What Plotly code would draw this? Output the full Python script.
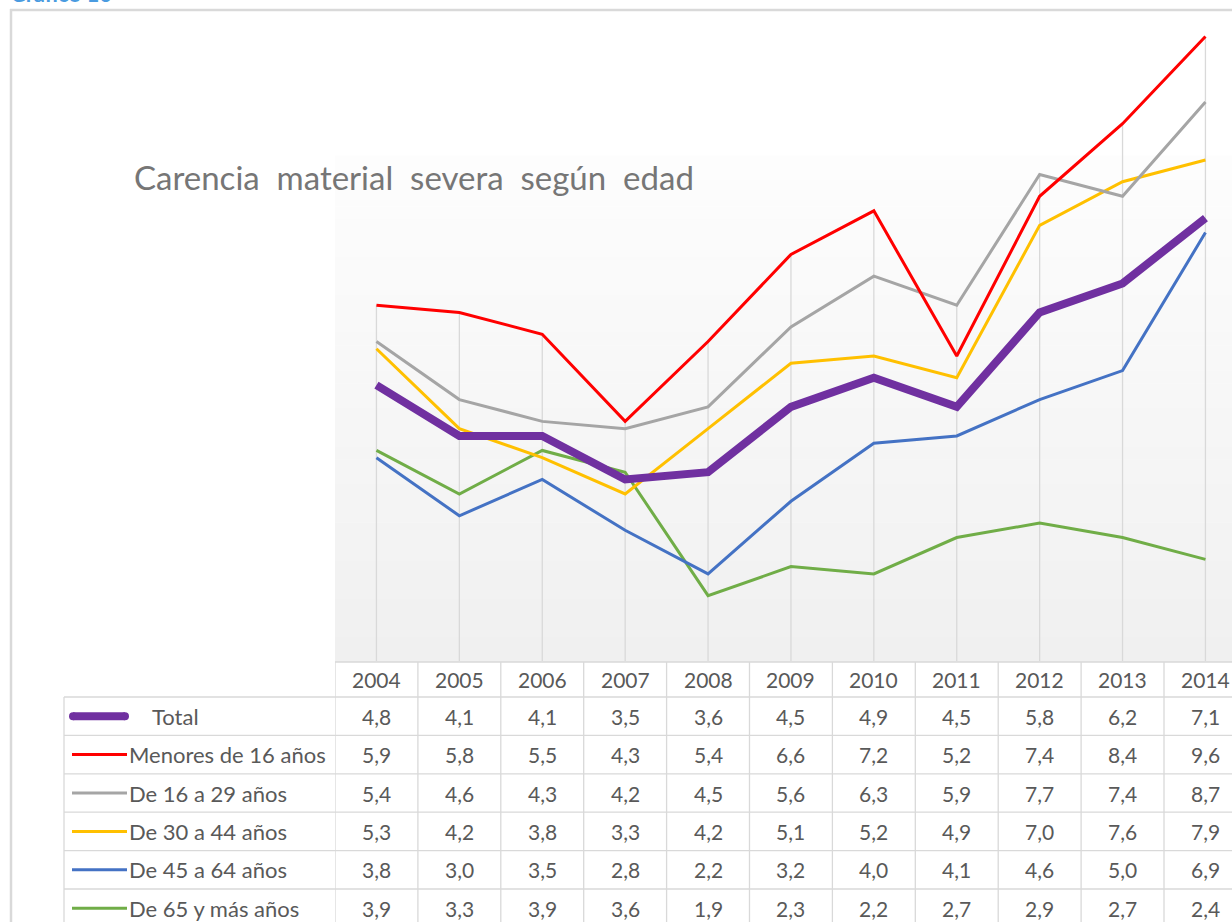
import plotly.graph_objects as go

# ---------------- data ----------------
years = [2004, 2005, 2006, 2007, 2008, 2009, 2010, 2011, 2012, 2013, 2014]
series_names = ["Total", "Menores de 16 años", "De 16 a 29 años",
                "De 30 a 44 años", "De 45 a 64 años", "De 65 y más años"]
total = [4.8, 4.1, 4.1, 3.5, 3.6, 4.5, 4.9, 4.5, 5.8, 6.2, 7.1]
menores16 = [5.9, 5.8, 5.5, 4.3, 5.4, 6.6, 7.2, 5.2, 7.4, 8.4, 9.6]
de16a29 = [5.4, 4.6, 4.3, 4.2, 4.5, 5.6, 6.3, 5.9, 7.7, 7.4, 8.7]
de30a44 = [5.3, 4.2, 3.8, 3.3, 4.2, 5.1, 5.2, 4.9, 7.0, 7.6, 7.9]
de45a64 = [3.8, 3.0, 3.5, 2.8, 2.2, 3.2, 4.0, 4.1, 4.6, 5.0, 6.9]
de65mas = [3.9, 3.3, 3.9, 3.6, 1.9, 2.3, 2.2, 2.7, 2.9, 2.7, 2.4]
series_values = [total, menores16, de16a29, de30a44, de45a64, de65mas]
title_words = ["Carencia", "material", "severa", "según", "edad"]
caption_text = "Gráfico 10"

# ---------------- styles ----------------
colors = ["#7030A0", "#FF0000", "#A5A5A5", "#FFC000", "#4472C4", "#70AD47"]
widths = [8, 3, 3, 3, 3, 3]
W, H = 1232, 922
FONT = "Lato"
TXT = "#595959"
BORDER = "#D9D9D9"


def px(x):
    return x / W


def py(y):
    return 1 - y / H


x_left_px, x_2004_px, x_2014_px = 335, 376, 1205
step = (x_2014_px - x_2004_px) / (years[-1] - years[0])
x_range = [years[0] - 0.5, years[0] - 0.5 + (W - x_left_px) / step]
plot_top_px, plot_bot_px = 7.5, 661
y_range = [1, 10]

fig = go.Figure()

# drop lines (from highest value to axis)
dx, dy = [], []
for i, yr in enumerate(years):
    m = max(s[i] for s in series_values)
    dx += [yr, yr, None]
    dy += [m, y_range[0], None]
fig.add_trace(go.Scatter(x=dx, y=dy, mode="lines",
                         line=dict(color=BORDER, width=1.3),
                         hoverinfo="skip", showlegend=False))

# series, drawn so that Total is on top
order = [5, 4, 3, 2, 1, 0]
for k in order:
    fig.add_trace(go.Scatter(x=years, y=series_values[k], mode="lines",
                             name=series_names[k],
                             line=dict(color=colors[k], width=widths[k]),
                             showlegend=False))

shapes = []
annotations = []

# gradient plot-area background
bg_top, bg_bot = 156, 662
n = 40
for i in range(n):
    t = i / (n - 1)
    c = int(round(253 - t * (253 - 240)))
    y0 = bg_top + (bg_bot - bg_top) * i / n
    y1 = bg_top + (bg_bot - bg_top) * (i + 1) / n
    shapes.append(dict(type="rect", xref="paper", yref="paper",
                       x0=px(x_left_px), x1=1.0, y0=py(y1), y1=py(y0) + 0.0005,
                       fillcolor=f"rgb({c},{c},{c})", line=dict(width=0),
                       layer="below"))

# outer chart frame
shapes.append(dict(type="line", xref="paper", yref="paper",
                   x0=px(11), x1=px(11), y0=0, y1=py(9),
                   line=dict(color=BORDER, width=2.5)))
shapes.append(dict(type="line", xref="paper", yref="paper",
                   x0=px(10), x1=1, y0=py(10), y1=py(10),
                   line=dict(color=BORDER, width=2.5)))

# data table grid
header_top, header_bot = 662, 697
row_h = 38.4
n_rows = len(series_names)
row_bounds = [header_bot + row_h * r for r in range(n_rows + 1)]
label_left = 64
shapes.append(dict(type="line", xref="x", yref="paper",
                   x0=years[0] - 0.5, x1=x_range[1], y0=py(header_top), y1=py(header_top),
                   line=dict(color=BORDER, width=1.3)))
for yb in row_bounds:
    shapes.append(dict(type="line", xref="paper", yref="paper",
                       x0=px(label_left), x1=1, y0=py(yb), y1=py(yb),
                       line=dict(color=BORDER, width=1.3)))
shapes.append(dict(type="line", xref="paper", yref="paper",
                   x0=px(label_left), x1=px(label_left), y0=0, y1=py(header_bot),
                   line=dict(color=BORDER, width=1.3)))
for yr in years:
    shapes.append(dict(type="line", xref="x", yref="paper",
                       x0=yr - 0.5, x1=yr - 0.5, y0=0, y1=py(header_top),
                       line=dict(color=BORDER, width=1.3)))

# header year labels
for yr in years:
    annotations.append(dict(x=yr, y=py((header_top + header_bot) / 2), xref="x", yref="paper",
                            text=str(yr), showarrow=False,
                            font=dict(family=FONT, size=21, color=TXT),
                            xanchor="center", yanchor="middle"))

# table rows
for r, name in enumerate(series_names):
    yc = (row_bounds[r] + row_bounds[r + 1]) / 2
    if r == 0:
        lx0, lx1, tx = 73, 125, 150
    else:
        lx0, lx1, tx = 72, 127, 127
    shapes.append(dict(type="line", xref="paper", yref="paper",
                       x0=px(lx0), x1=px(lx1), y0=py(yc), y1=py(yc),
                       line=dict(color=colors[r], width=widths[r])))
    if r == 0:
        # round caps for thick legend sample
        for cx in (lx0, lx1):
            shapes.append(dict(type="circle", xref="paper", yref="paper",
                               x0=px(cx - 4), x1=px(cx + 4), y0=py(yc + 4), y1=py(yc - 4),
                               fillcolor=colors[r], line=dict(width=0)))
    annotations.append(dict(x=px(tx), y=py(yc), xref="paper", yref="paper",
                            text=name, showarrow=False,
                            font=dict(family=FONT, size=22, color=TXT),
                            xanchor="left", yanchor="middle"))
    for i, yr in enumerate(years):
        annotations.append(dict(x=yr, y=py(yc), xref="x", yref="paper",
                                text=f"{series_values[r][i]:.1f}".replace(".", ","),
                                showarrow=False,
                                font=dict(family=FONT, size=21, color=TXT),
                                xanchor="center", yanchor="middle"))

# title inside chart (wide word spacing as in the reference)
annotations.append(dict(x=px(132), y=py(177), xref="paper", yref="paper",
                        text="&nbsp;&nbsp;".join(title_words), showarrow=False,
                        font=dict(family=FONT, size=33, color="#767676"),
                        xanchor="left", yanchor="middle"))

# caption, cut off at the top (as in the reference)
annotations.append(dict(x=px(8), y=py(-6), xref="paper", yref="paper",
                        text=f"<b>{caption_text}</b>", showarrow=False,
                        font=dict(family=FONT, size=22, color="#4A9BE0"),
                        xanchor="left", yanchor="middle"))

fig.update_layout(
    width=W, height=H,
    margin=dict(l=0, r=0, t=0, b=0),
    paper_bgcolor="white", plot_bgcolor="rgba(0,0,0,0)",
    xaxis=dict(domain=[px(x_left_px), 1], range=x_range, visible=False,
               showgrid=False, zeroline=False),
    yaxis=dict(domain=[py(plot_bot_px), py(plot_top_px)], range=y_range,
               visible=False, showgrid=False, zeroline=False),
    shapes=shapes, annotations=annotations,
    showlegend=False,
)

fig.write_html("out.html", config={"displayModeBar": False},
               post_script="document.body.style.margin='0';document.body.style.overflow='hidden';")
